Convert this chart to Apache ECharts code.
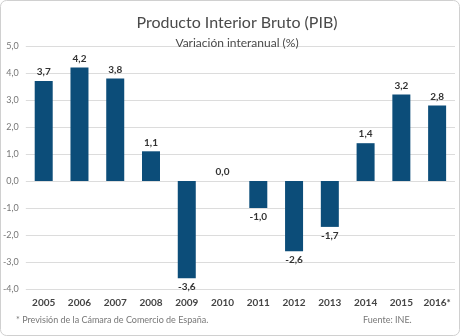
<!DOCTYPE html>
<html><head><meta charset="utf-8">
<script src="https://cdn.jsdelivr.net/npm/echarts@6/dist/echarts.min.js"></script>
<style>html,body{margin:0;padding:0;background:#fff}#c{width:460px;height:336px}</style>
</head><body><div id="c"></div>
<script>
const categories = ['2005','2006','2007','2008','2009','2010','2011','2012','2013','2014','2015','2016*'];
const values = [3.7, 4.2, 3.8, 1.1, -3.6, 0.0, -1.0, -2.6, -1.7, 1.4, 3.2, 2.8];
const yTicks = [-4, -3, -2, -1, 0, 1, 2, 3, 4, 5];
const fmt = v => v.toFixed(1).replace('.', ',');
const FONT = 'Lato';
const chart = echarts.init(document.getElementById('c'), null, {renderer: 'canvas'});
chart.setOption({
  animation: false,
  backgroundColor: '#fff',
  textStyle: {fontFamily: FONT},
  title: [
    {text: 'Producto Interior Bruto (PIB)', left: 232, top: 10, textAlign: 'center',
     textStyle: {fontFamily: FONT, fontSize: 16, fontWeight: 'normal', color: '#4a4a4a'}},
    {text: 'Variación interanual (%)', left: 232, top: 32, textAlign: 'center',
     textStyle: {fontFamily: FONT, fontSize: 12, fontWeight: 'normal', color: '#4a4a4a'}}
  ],
  graphic: [
    {type: 'rect', shape: {x: 0.5, y: 0.5, width: 459, height: 335, r: 6},
     style: {fill: 'none', stroke: '#d0d0d0', lineWidth: 1}, z: 100},
    {type: 'text', left: 16, top: 316, style: {text: '* Previsión de la Cámara de Comercio de España.', fontFamily: FONT, fontSize: 9, fill: '#777'}},
    {type: 'text', left: 363, top: 316, style: {text: 'Fuente: INE.', fontFamily: FONT, fontSize: 9, fill: '#777'}}
  ],
  grid: {left: 25, right: 5, top: 46, bottom: 47, containLabel: false},
  xAxis: {
    type: 'category', data: categories, position: 'bottom',
    axisLine: {show: false}, axisTick: {show: false},
    axisLabel: {color: '#444', fontSize: 10, fontWeight: 'bold', margin: 9, interval: 0, fontFamily: FONT}
  },
  yAxis: {
    type: 'value', min: -4, max: 5, interval: 1,
    axisLine: {show: false}, axisTick: {show: false},
    axisLabel: {color: '#777', fontSize: 9, margin: 7, formatter: v => fmt(v), fontFamily: FONT},
    splitLine: {lineStyle: {color: '#dcdcdc', width: 1}}
  },
  series: [{
    type: 'bar', barWidth: 18,
    data: values.map(v => v < 0 ? {value: v, label: {position: 'bottom'}} : v),
    itemStyle: {color: '#0c4d79'},
    label: {
      show: true, fontSize: 10, fontWeight: 'bold', color: '#333', fontFamily: FONT,
      position: 'top', distance: 4,
      formatter: p => fmt(p.value)
    }
  }]
});
</script></body></html>
